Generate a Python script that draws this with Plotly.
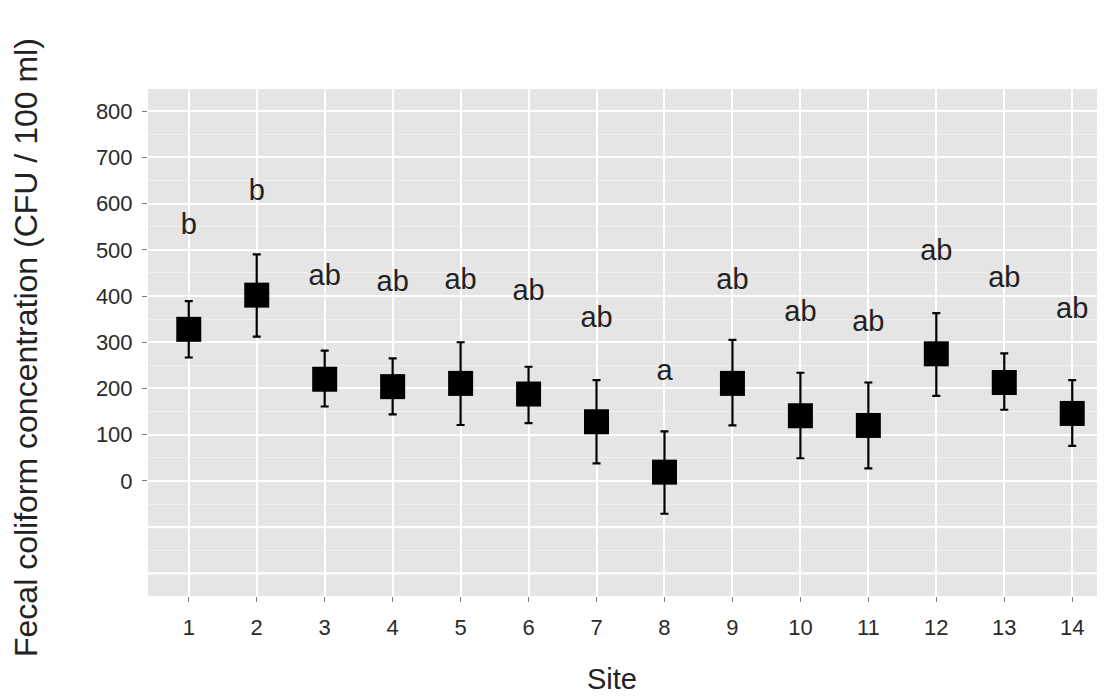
import plotly.graph_objects as go

sites = list(range(1, 15))
mean_cfu = [328, 402, 220, 204, 211, 188, 128, 19, 211, 141, 120, 275, 213, 146]
upper_cfu = [389, 490, 282, 265, 300, 247, 218, 107, 305, 234, 213, 363, 276, 218]
lower_cfu = [267, 312, 161, 144, 121, 125, 38, -71, 120, 49, 27, 184, 154, 76]
letters = ["b", "b", "ab", "ab", "ab", "ab", "ab", "a", "ab", "ab", "ab", "ab", "ab", "ab"]
letter_y = [550, 623, 440, 426, 431, 407, 348, 234, 431, 361, 339, 494, 435, 368]
y_ticks = [0, 100, 200, 300, 400, 500, 600, 700, 800]
extra_grid = [-100, -200]

err_plus = [u - m for u, m in zip(upper_cfu, mean_cfu)]
err_minus = [m - l for m, l in zip(mean_cfu, lower_cfu)]

FONT = "Liberation Sans, Arial, sans-serif"

fig = go.Figure()
fig.add_trace(go.Scatter(
    x=sites, y=mean_cfu, mode="markers",
    marker=dict(symbol="square", size=25, color="black"),
    error_y=dict(type="data", symmetric=False, array=err_plus, arrayminus=err_minus,
                 color="black", thickness=2.2, width=4),
    showlegend=False, hoverinfo="skip",
))
fig.add_trace(go.Scatter(
    x=sites, y=letter_y, mode="text", text=letters,
    textfont=dict(family=FONT, size=29, color="#222222"),
    textposition="middle center", showlegend=False, hoverinfo="skip",
))

for g in extra_grid:
    fig.add_shape(type="line", xref="paper", x0=0, x1=1, yref="y", y0=g, y1=g,
                  line=dict(color="white", width=2.2), layer="below")

fig.update_layout(
    width=1105, height=696,
    margin=dict(l=140, r=0, t=81, b=108),
    paper_bgcolor="white", plot_bgcolor="#E5E5E5",
    font=dict(family=FONT),
    xaxis=dict(
        range=[0.4, 14.6], tickvals=sites, ticktext=[str(s) for s in sites],
        showgrid=True, gridcolor="white", gridwidth=2.2, zeroline=False,
        ticks="outside", ticklen=5, tickwidth=1, tickcolor="#7f7f7f",
        tickfont=dict(family=FONT, size=22, color="#2a2a2a"),
        ticklabelstandoff=7, showline=False,
    ),
    yaxis=dict(
        range=[-249, 848], tickvals=y_ticks, ticktext=[str(v) for v in y_ticks],
        showgrid=True, gridcolor="white", gridwidth=2.2, zeroline=False,
        ticks="outside", ticklen=5, tickwidth=1, tickcolor="#7f7f7f",
        tickfont=dict(family=FONT, size=22, color="#2a2a2a"),
        ticklabelstandoff=5, showline=False,
        minor=dict(tickvals=[-250, -150, -50, 50, 150, 250, 350, 450, 550, 650, 750],
                   showgrid=True, gridcolor="#F0F0F0", gridwidth=1, ticks=""),
    ),
    annotations=[
        dict(text="Site", xref="paper", yref="paper", x=0.481, y=-0.164,
             xanchor="center", yanchor="middle", showarrow=False,
             font=dict(family=FONT, size=29, color="#222222")),
        dict(text="Fecal coliform concentration (CFU / 100 ml)", xref="paper", yref="paper",
             x=-0.127, y=0.49, xanchor="center", yanchor="middle", textangle=-90,
             showarrow=False, font=dict(family=FONT, size=32, color="#222222")),
    ],
)

fig.write_html("out.html")
